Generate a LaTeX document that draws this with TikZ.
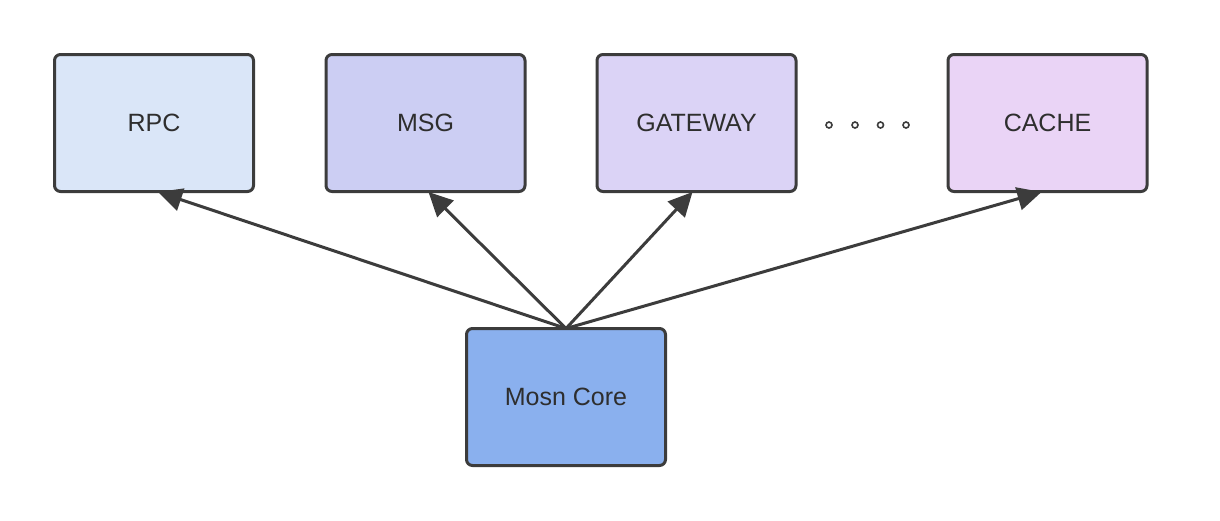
\documentclass[tikz,border=0pt]{standalone}
\usepackage{fontspec}
\setmainfont{Liberation Sans}
\usetikzlibrary{arrows.meta}
\definecolor{rpcfill}{HTML}{DAE6F8}
\definecolor{msgfill}{HTML}{CCCEF3}
\definecolor{gwfill}{HTML}{DBD3F6}
\definecolor{cachefill}{HTML}{EAD4F6}
\definecolor{corefill}{HTML}{8AB0EE}
\definecolor{edge}{HTML}{3C3C3C}
\definecolor{txt}{HTML}{2E2E2E}
\tikzset{
  box/.style={draw=edge, line width=3pt, rounded corners=6pt, minimum width=199pt, minimum height=137pt, inner sep=0pt, text=txt, font=\fontsize{25}{29}\selectfont},
  arr/.style={draw=edge, line width=3pt, -{Triangle[length=24pt,width=23pt]}},
  dot/.style={circle, draw=edge, line width=1.6pt, minimum size=6pt, inner sep=0pt}
}
\begin{document}
\begin{tikzpicture}[x=1pt,y=-1pt]
\useasboundingbox (0,0) rectangle (1220,520);
\node[box, fill=rpcfill] (rpc) at (154,123) {RPC};
\node[box, fill=msgfill] (msg) at (425.5,123) {MSG};
\node[box, fill=gwfill] (gw) at (696.5,123) {GATEWAY};
\node[box, fill=cachefill] (cache) at (1047.5,123) {CACHE};
\node[box, fill=corefill] (core) at (566,397) {Mosn Core};
\node[dot] (d1) at (829,125) {};
\node[dot] (d2) at (855,125) {};
\node[dot] (d3) at (880.5,125) {};
\node[dot] (d4) at (906,125) {};
\coordinate (src) at ([yshift=-1.5]core.north);
\draw[arr] (src) -- ([xshift=4pt,yshift=1pt]rpc.south);
\draw[arr] (src) -- ([xshift=3pt,yshift=1pt]msg.south);
\draw[arr] (src) -- ([xshift=-4pt,yshift=1pt]gw.south);
\draw[arr] (src) -- ([xshift=-6pt,yshift=1pt]cache.south);
\end{tikzpicture}
\end{document}
